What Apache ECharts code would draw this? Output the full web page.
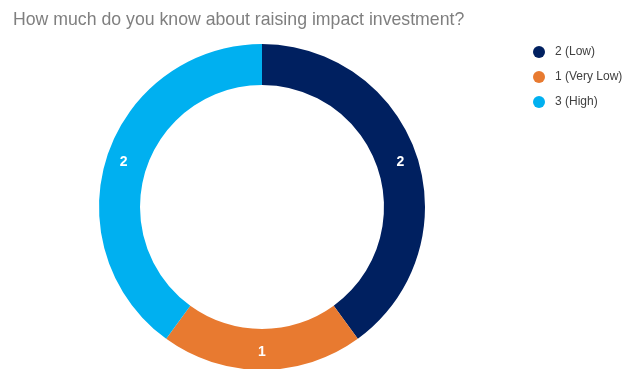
<!DOCTYPE html>
<html>
<head>
<meta charset="utf-8">
<script src="https://cdn.jsdelivr.net/npm/echarts@6/dist/echarts.min.js"></script>
<style>
  html, body { margin: 0; padding: 0; background: #ffffff; }
  #chart { width: 629px; height: 369px; }
</style>
</head>
<body>
<div id="chart"></div>
<script>
// Survey answers: self-rated knowledge about raising impact investment
const categories = ['2 (Low)', '1 (Very Low)', '3 (High)'];
const counts = [2, 1, 2];
const colors = ['#002060', '#E87A30', '#00B0F0'];

const chart = echarts.init(document.getElementById('chart'), null, { renderer: 'canvas' });

chart.setOption({
  animation: false,
  backgroundColor: '#ffffff',
  title: {
    text: 'How much do you know about raising impact investment?',
    left: 8,
    top: 6,
    textStyle: {
      fontFamily: 'Liberation Sans, Arial, sans-serif',
      fontSize: 17.7,
      fontWeight: 'normal',
      color: '#7F7F7F'
    }
  },
  legend: {
    orient: 'vertical',
    left: 528,
    top: 41,
    icon: 'circle',
    itemWidth: 12,
    itemHeight: 12,
    itemGap: 13,
    textStyle: {
      fontFamily: 'Liberation Sans, Arial, sans-serif',
      fontSize: 12,
      color: '#404040',
      padding: [0, 0, 0, 5]
    },
    data: categories
  },
  series: [{
    type: 'pie',
    center: [262, 207],
    radius: [122, 163],
    startAngle: 90,
    clockwise: true,
    avoidLabelOverlap: false,
    label: {
      show: true,
      position: 'inside',
      formatter: '{c}',
      color: '#ffffff',
      fontFamily: 'Liberation Sans, Arial, sans-serif',
      fontSize: 14,
      fontWeight: 'bold'
    },
    labelLine: { show: false },
    itemStyle: { borderWidth: 0 },
    emphasis: { disabled: true },
    data: categories.map((name, i) => ({
      name: name,
      value: counts[i],
      itemStyle: { color: colors[i] }
    }))
  }]
});
</script>
</body>
</html>
